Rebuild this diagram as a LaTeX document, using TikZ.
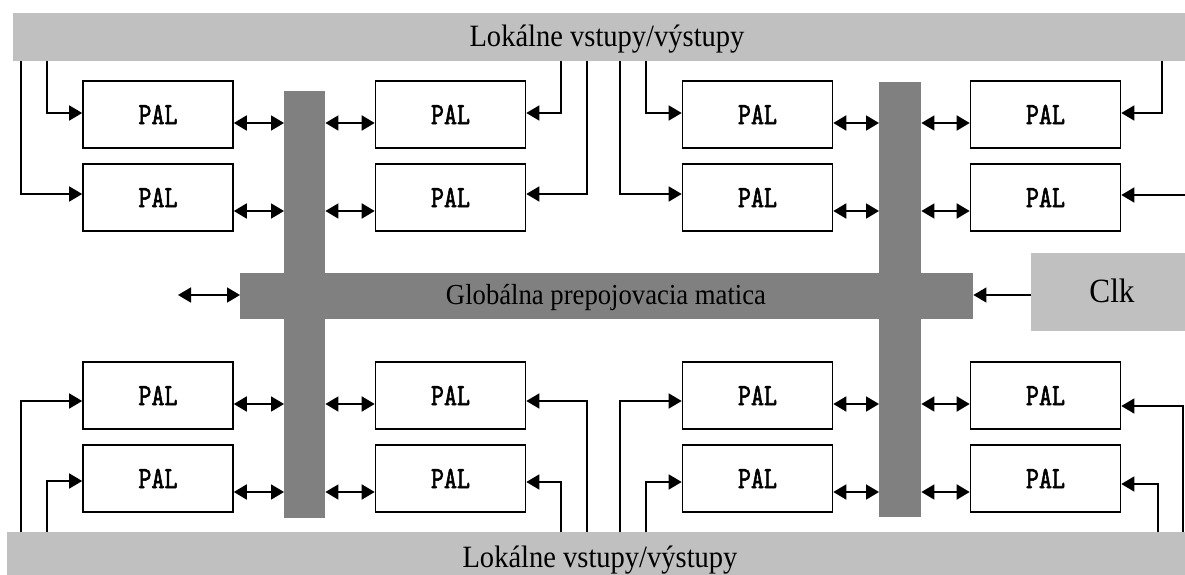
\documentclass[tikz,border=0pt]{standalone}
\usepackage{fontspec}
\setmainfont{Liberation Serif}
\newfontfamily\railfont[FakeStretch=0.92]{Liberation Serif}
\newfontfamily\palfont[FakeBold=1.8, FakeStretch=0.8]{lmmono10-regular.otf}
\usetikzlibrary{arrows.meta}

\definecolor{busgray}{HTML}{808080}
\definecolor{iogray}{HTML}{C0C0C0}

\tikzset{
  >={Triangle[length=13pt,width=15pt]},
  iobar/.style={fill=iogray, draw=none, inner sep=0pt},
  bus/.style={fill=busgray, draw=none, inner sep=0pt},
  palbox/.style={draw=black, line width=1.6pt, fill=white, inner sep=0pt,
    minimum width=150pt, minimum height=67pt,
    font=\palfont\fontsize{31}{33}\selectfont},
  link/.style={<->, line width=1.8pt},
  feed/.style={->, line width=1.5pt},
  label/.style={inner sep=0pt, font=\railfont\fontsize{31}{33}\selectfont},
}

\begin{document}
\begin{tikzpicture}[x=1pt, y=-1pt]
  \useasboundingbox (0,0) rectangle (1185,575);

  % local I/O rails
  \node[iobar, anchor=north west, minimum width=1172pt, minimum height=48pt] (top) at (13,13) {};
  \node[iobar, anchor=north west, minimum width=1178pt, minimum height=43pt] (bot) at (7,532) {};
  \node[label, anchor=base] (toptext) at (607,47) {Lokálne vstupy/výstupy};
  \node[label, anchor=base] (bottext) at (600,567) {Lokálne vstupy/výstupy};

  % global interconnect matrix and the two vertical branches
  \node[bus, anchor=north west, minimum width=41pt, minimum height=427pt] (vL) at (284,91) {};
  \node[bus, anchor=north west, minimum width=42pt, minimum height=435pt] (vR) at (879,82) {};
  \node[bus, anchor=north west, minimum width=733pt, minimum height=46pt] (glob) at (240,273) {};
  \node[label, font=\railfont\fontsize{29}{31}\selectfont, anchor=base] (globtext) at (606,304) {Globálna prepojovacia matica};

  % clock source
  \node[iobar, anchor=north west, minimum width=154pt, minimum height=78pt] (clk) at (1031,253) {};
  \node[label, font=\railfont\fontsize{34}{36}\selectfont] (clktext) at (1112,291) {Clk};

  % PAL blocks: columns A..D, rows 1..4
  \foreach \c/\x in {A/158, B/450.5, C/757.5, D/1045.5}
    \foreach \r/\y in {1/114.5, 2/197.5, 3/395.5, 4/478.5}
      \node[palbox] (\c\r) at (\x,\y) {PAL};

  % bidirectional links between blocks and the vertical buses
  \foreach \r/\s in {1/-8.5, 2/-13.5, 3/-8.5, 4/-13.5} {
    \draw[link] ([yshift=\s pt]A\r.east) -- ([yshift=\s pt]A\r.east -| vL.west);
    \draw[link] ([yshift=\s pt]B\r.west) -- ([yshift=\s pt]B\r.west -| vL.east);
    \draw[link] ([yshift=\s pt]C\r.east) -- ([yshift=\s pt]C\r.east -| vR.west);
    \draw[link] ([yshift=\s pt]D\r.west) -- ([yshift=\s pt]D\r.west -| vR.east);
  }

  % inputs from the upper rail
  \draw[feed] (top.south -| 47,0)   |- ([yshift=1.5pt]A1.west);
  \draw[feed] (top.south -| 21,0)   |- ([yshift=3.5pt]A2.west);
  \draw[feed] (top.south -| 561,0)  |- ([yshift=1.5pt]B1.east);
  \draw[feed] (top.south -| 587,0)  |- ([yshift=3.5pt]B2.east);
  \draw[feed] (top.south -| 646,0)  |- ([yshift=1.5pt]C1.west);
  \draw[feed] (top.south -| 620,0)  |- ([yshift=3.5pt]C2.west);
  \draw[feed] (top.south -| 1162,0) |- ([yshift=1.5pt]D1.east);
  \coordinate (rim) at (1185,195);
  \draw[feed] (rim) -- (rim -| D2.east);

  % inputs from the lower rail
  \draw[feed] (bot.north -| 21,0)   |- ([yshift=-5.5pt]A3.west);
  \draw[feed] (bot.north -| 47,0)   |- ([yshift=-2.5pt]A4.west);
  \draw[feed] (bot.north -| 587,0)  |- ([yshift=-5.5pt]B3.east);
  \draw[feed] (bot.north -| 561,0)  |- ([yshift=-3.5pt]B4.east);
  \draw[feed] (bot.north -| 620,0)  |- ([yshift=-5.5pt]C3.west);
  \draw[feed] (bot.north -| 646,0)  |- ([yshift=-3.5pt]C4.west);
  \draw[feed] (bot.north -| 1183,0) |- ([yshift=-10.5pt]D3.east);
  \draw[feed] (bot.north -| 1158,0) |- ([yshift=-5.5pt]D4.east);

  % global matrix external port and clock feed
  \coordinate (gport) at (178,295);
  \draw[link] (gport) -- (gport -| glob.west);
  \draw[feed, line width=1.3pt] (clk.west |- 0,295) -- (glob.east |- 0,295);
\end{tikzpicture}
\end{document}
